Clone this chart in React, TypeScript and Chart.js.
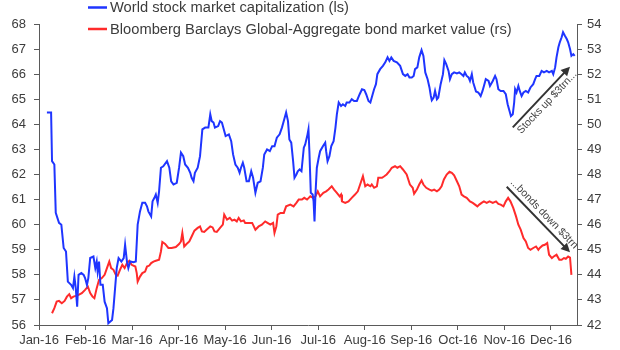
import React, { useEffect, useRef } from "react";
import { Chart, registerables } from "chart.js";

Chart.register(...registerables);

const monthLabels = ["Jan-16","Feb-16","Mar-16","Apr-16","May-16","Jun-16","Jul-16","Aug-16","Sep-16","Oct-16","Nov-16","Dec-16"];

// x = months elapsed since 1 Jan 2016
const stockMonths = [0.17,0.26,0.28,0.33,0.36,0.43,0.48,0.53,0.58,0.62,0.69,0.73,0.76,0.79,0.82,0.85,0.91,0.96,0.99,1.03,1.06,1.10,1.17,1.21,1.24,1.26,1.29,1.32,1.37,1.41,1.46,1.49,1.57,1.60,1.67,1.71,1.77,1.82,1.85,1.89,1.92,1.96,2.03,2.08,2.12,2.17,2.22,2.28,2.32,2.35,2.41,2.44,2.48,2.51,2.55,2.58,2.62,2.67,2.75,2.80,2.84,2.89,2.96,3.01,3.05,3.10,3.14,3.20,3.25,3.28,3.32,3.35,3.41,3.46,3.51,3.57,3.64,3.68,3.71,3.75,3.78,3.85,3.89,3.93,4.01,4.08,4.13,4.17,4.22,4.27,4.31,4.34,4.38,4.41,4.46,4.51,4.56,4.60,4.65,4.70,4.76,4.81,4.84,4.90,4.96,5.01,5.06,5.11,5.17,5.22,5.27,5.31,5.35,5.38,5.42,5.46,5.49,5.53,5.56,5.60,5.64,5.69,5.72,5.77,5.79,5.81,5.84,5.88,5.90,5.92,5.94,5.97,6.01,6.04,6.10,6.15,6.17,6.20,6.24,6.28,6.33,6.37,6.40,6.44,6.49,6.53,6.58,6.61,6.67,6.72,6.77,6.83,6.89,6.94,6.99,7.03,7.08,7.12,7.15,7.20,7.24,7.27,7.33,7.39,7.44,7.49,7.53,7.57,7.62,7.69,7.76,7.82,7.87,7.92,7.96,8.01,8.05,8.08,8.13,8.17,8.22,8.26,8.30,8.35,8.39,8.42,8.44,8.48,8.51,8.55,8.58,8.63,8.68,8.71,8.75,8.80,8.83,8.87,8.92,8.98,9.03,9.08,9.12,9.15,9.19,9.23,9.26,9.30,9.33,9.39,9.44,9.49,9.53,9.56,9.60,9.66,9.69,9.75,9.80,9.83,9.87,9.92,9.98,10.03,10.07,10.11,10.14,10.18,10.21,10.23,10.26,10.30,10.33,10.37,10.41,10.46,10.51,10.56,10.62,10.66,10.69,10.75,10.80,10.85,10.91,10.96,11.02,11.05,11.09,11.12,11.16,11.19,11.23,11.26,11.30,11.34,11.37,11.41,11.44,11.48,11.51];
const stockValues = [64.47,64.47,62.53,62.40,60.47,60.07,60.00,59.07,58.93,57.73,57.60,57.47,57.93,57.47,56.73,58.00,58.07,58.00,57.87,57.60,57.87,58.67,58.73,58.27,58.53,58.13,58.53,57.60,57.60,56.93,56.67,56.07,56.20,56.67,58.27,58.67,58.53,58.67,59.20,58.53,58.27,58.53,58.50,58.53,60.00,60.53,60.87,60.87,60.73,60.53,60.33,60.93,61.07,61.20,60.87,61.33,62.27,62.33,62.53,62.27,61.73,61.60,61.67,62.27,62.87,62.73,62.40,62.27,62.07,61.87,61.73,62.07,62.27,62.73,63.80,63.87,63.87,64.40,64.13,64.07,63.87,63.93,64.13,64.07,63.53,63.60,63.33,62.80,62.40,62.27,62.07,62.27,62.47,62.27,61.73,61.73,62.13,61.87,61.27,61.67,61.73,62.27,62.80,63.00,62.93,63.13,63.13,63.47,63.60,63.87,64.20,64.47,64.13,63.40,63.27,62.53,61.87,62.00,62.13,62.20,62.13,63.07,63.20,63.60,63.80,62.93,61.27,61.20,60.93,60.13,61.20,62.27,62.67,62.93,63.13,63.27,62.93,62.53,62.73,63.13,63.33,63.87,64.40,64.87,64.73,64.80,64.73,64.87,64.87,65.00,64.93,64.93,65.20,65.40,65.37,65.20,64.93,64.87,65.07,65.40,65.60,66.00,66.20,66.33,66.47,66.67,66.53,66.67,66.53,66.47,66.33,66.00,65.93,66.00,65.87,65.87,65.93,66.20,66.27,66.67,66.96,66.73,66.07,65.80,65.47,65.13,64.96,65.07,65.33,65.00,65.07,65.60,66.00,66.56,66.40,66.13,65.80,66.00,66.07,66.03,66.07,66.00,65.93,66.07,65.93,65.87,65.73,66.00,65.67,65.31,65.27,65.13,65.33,65.53,65.80,65.73,65.53,65.73,65.93,65.80,65.40,65.33,65.33,65.20,64.80,64.53,64.33,64.40,64.87,65.40,65.27,65.53,65.33,65.13,65.27,65.33,65.27,65.47,65.60,65.80,65.93,65.93,66.13,66.07,66.13,66.07,66.13,66.00,66.27,66.67,67.07,67.27,67.47,67.67,67.53,67.40,67.27,67.00,66.73,66.80,66.73];

const bondMonths = [0.28,0.33,0.38,0.43,0.49,0.55,0.60,0.65,0.69,0.74,0.79,0.85,0.92,0.99,1.05,1.10,1.15,1.19,1.24,1.29,1.35,1.41,1.46,1.51,1.55,1.60,1.65,1.69,1.74,1.79,1.84,1.89,1.94,1.99,2.07,2.10,2.12,2.17,2.22,2.28,2.32,2.37,2.41,2.46,2.51,2.58,2.62,2.65,2.71,2.78,2.85,2.94,3.01,3.05,3.08,3.12,3.17,3.23,3.28,3.34,3.41,3.46,3.50,3.55,3.60,3.68,3.73,3.77,3.82,3.89,3.95,3.98,4.04,4.10,4.15,4.20,4.25,4.29,4.34,4.40,4.43,4.51,4.58,4.65,4.72,4.79,4.86,4.91,4.97,5.03,5.06,5.10,5.13,5.19,5.26,5.31,5.40,5.47,5.53,5.58,5.65,5.70,5.76,5.83,5.89,5.94,5.99,6.04,6.11,6.17,6.22,6.29,6.34,6.40,6.46,6.49,6.51,6.58,6.65,6.72,6.79,6.85,6.90,6.96,7.01,7.06,7.12,7.15,7.20,7.26,7.29,7.37,7.42,7.47,7.53,7.58,7.65,7.70,7.76,7.82,7.90,7.97,8.03,8.06,8.12,8.17,8.22,8.26,8.32,8.39,8.44,8.49,8.55,8.60,8.65,8.70,8.76,8.82,8.87,8.92,8.98,9.03,9.08,9.13,9.19,9.26,9.32,9.37,9.42,9.46,9.51,9.56,9.62,9.68,9.75,9.82,9.87,9.92,9.98,10.03,10.08,10.13,10.19,10.25,10.30,10.35,10.41,10.46,10.51,10.56,10.62,10.68,10.73,10.76,10.82,10.87,10.92,10.96,11.02,11.06,11.12,11.18,11.23,11.28,11.32,11.37,11.41,11.44];
const bondValues = [42.47,42.67,42.93,42.96,42.87,42.96,43.13,43.23,43.07,43.13,43.16,43.20,43.27,43.40,43.53,43.27,43.13,43.07,43.47,43.80,43.87,44.00,44.27,44.53,44.27,44.20,44.00,43.97,44.20,44.40,44.27,44.47,44.56,44.40,44.33,44.07,43.73,43.93,44.07,44.13,44.33,44.37,44.47,44.53,44.56,44.60,44.93,45.31,45.23,45.07,45.07,45.11,45.23,45.33,45.67,45.13,45.23,45.33,45.53,45.76,45.87,45.93,45.73,45.71,45.80,45.93,45.89,45.73,45.71,45.87,46.00,46.40,46.20,46.27,46.16,46.20,46.13,46.27,46.13,46.17,46.07,46.07,46.07,45.80,45.93,46.00,46.13,46.07,46.00,46.07,45.67,45.93,46.40,46.47,46.47,46.73,46.80,46.73,46.87,47.00,47.00,47.07,47.00,47.13,47.07,47.13,47.33,47.13,47.27,47.33,47.40,47.53,47.40,47.27,47.13,47.20,46.93,46.87,46.93,47.07,47.20,47.33,47.60,47.93,47.53,47.60,47.53,47.60,47.47,47.53,47.87,47.87,47.93,48.00,48.13,48.27,48.33,48.27,48.33,48.20,48.00,47.60,47.47,47.23,47.40,47.60,47.76,47.60,47.47,47.40,47.36,47.40,47.33,47.40,47.53,47.80,48.00,48.11,48.07,47.97,47.73,47.53,47.20,47.13,47.07,46.93,46.87,46.80,46.73,46.80,46.87,46.93,46.87,46.93,46.87,46.93,46.83,46.80,46.73,46.93,47.07,46.93,46.67,46.33,46.00,45.80,45.47,45.33,45.07,45.00,45.07,45.13,45.00,45.07,45.17,45.20,45.27,44.80,44.67,44.73,44.80,44.60,44.60,44.67,44.64,44.73,44.69,44.00];

const stockLabel = "World stock market capitalization (ls)";
const bondLabel = "Bloomberg Barclays Global-Aggregate bond market value (rs)";
const stockNote = "Stocks up $3trn...";
const bondNote = "...bonds down $3trn";

const X_MAX = 11.56;
const BLUE = "#1f35ff";
const RED = "#ff2b2b";
const TEXT = "#3c3c3c";
const AXIS = "#5a5a5a";
const FONT = "'Liberation Sans', Arial, sans-serif";

// annotation arrows in data coordinates (month, value)
const stockArrow = { axis: "y", from: [10.18, 63.88], to: [11.41, 66.3] };
const bondArrow = { axis: "y1", from: [10.05, 47.51], to: [11.41, 44.9] };

function drawArrow(ctx: CanvasRenderingContext2D, x1: number, y1: number, x2: number, y2: number) {
  const ang = Math.atan2(y2 - y1, x2 - x1);
  const head = 9;
  const hw = 4.5;
  ctx.save();
  ctx.strokeStyle = "#333";
  ctx.fillStyle = "#333";
  ctx.lineWidth = 2;
  ctx.beginPath();
  ctx.moveTo(x1, y1);
  ctx.lineTo(x2 - Math.cos(ang) * head * 0.8, y2 - Math.sin(ang) * head * 0.8);
  ctx.stroke();
  ctx.beginPath();
  ctx.moveTo(x2, y2);
  ctx.lineTo(x2 - Math.cos(ang) * head + Math.sin(ang) * hw, y2 - Math.sin(ang) * head - Math.cos(ang) * hw);
  ctx.lineTo(x2 - Math.cos(ang) * head - Math.sin(ang) * hw, y2 - Math.sin(ang) * head + Math.cos(ang) * hw);
  ctx.closePath();
  ctx.fill();
  ctx.restore();
}

function drawNote(ctx: CanvasRenderingContext2D, text: string, x1: number, y1: number, x2: number, y2: number, offset: number) {
  const ang = Math.atan2(y2 - y1, x2 - x1);
  const mx = (x1 + x2) / 2;
  const my = (y1 + y2) / 2;
  const px = -Math.sin(ang);
  const py = Math.cos(ang);
  ctx.save();
  ctx.translate(mx + px * offset, my + py * offset);
  ctx.rotate(ang);
  ctx.font = `10.5px ${FONT}`;
  ctx.fillStyle = "#444";
  ctx.textAlign = "center";
  ctx.textBaseline = "middle";
  ctx.fillText(text, 0, 0);
  ctx.restore();
}

const overlayPlugin = {
  id: "overlay",
  afterDraw(chart: any) {
    const ctx: CanvasRenderingContext2D = chart.ctx;
    const xs = chart.scales.x;
    const items = [
      { label: stockLabel, color: BLUE, y: 7.5 },
      { label: bondLabel, color: RED, y: 29 },
    ];
    ctx.save();
    items.forEach((it) => {
      ctx.strokeStyle = it.color;
      ctx.lineWidth = 2.5;
      ctx.beginPath();
      ctx.moveTo(88, it.y);
      ctx.lineTo(107, it.y);
      ctx.stroke();
      ctx.font = `14.7px ${FONT}`;
      ctx.fillStyle = TEXT;
      ctx.textAlign = "left";
      ctx.textBaseline = "middle";
      ctx.fillText(it.label, 110, it.y + 0.5);
    });
    ctx.restore();

    const sA = chart.scales[stockArrow.axis];
    const s1 = [xs.getPixelForValue(stockArrow.from[0]), sA.getPixelForValue(stockArrow.from[1])];
    const s2 = [xs.getPixelForValue(stockArrow.to[0]), sA.getPixelForValue(stockArrow.to[1])];
    drawArrow(ctx, s1[0], s1[1], s2[0], s2[1]);
    drawNote(ctx, stockNote, s1[0], s1[1], s2[0], s2[1], 8);

    const bA = chart.scales[bondArrow.axis];
    const b1 = [xs.getPixelForValue(bondArrow.from[0]), bA.getPixelForValue(bondArrow.from[1])];
    const b2 = [xs.getPixelForValue(bondArrow.to[0]), bA.getPixelForValue(bondArrow.to[1])];
    drawArrow(ctx, b1[0], b1[1], b2[0], b2[1]);
    drawNote(ctx, bondNote, b1[0], b1[1], b2[0], b2[1], -8);
  },
};

export default function App() {
  const ref = useRef<HTMLCanvasElement | null>(null);
  useEffect(() => {
    if (!ref.current) return;
    const stockData = stockMonths.map((m, i) => ({ x: m, y: stockValues[i] }));
    const bondData = bondMonths.map((m, i) => ({ x: m, y: bondValues[i] }));
    const chart = new Chart(ref.current, {
      type: "line",
      data: {
        datasets: [
          { label: stockLabel, data: stockData, yAxisID: "y", borderColor: BLUE, borderWidth: 2, pointRadius: 0, tension: 0, fill: false },
          { label: bondLabel, data: bondData, yAxisID: "y1", borderColor: RED, borderWidth: 2, pointRadius: 0, tension: 0, fill: false },
        ],
      },
      options: {
        animation: false,
        responsive: false,
        devicePixelRatio: 1,
        layout: { padding: { top: 24, left: 0, right: 0, bottom: 0 } },
        plugins: { legend: { display: false }, tooltip: { enabled: false } },
        scales: {
          x: {
            type: "linear",
            min: 0,
            max: X_MAX,
            afterBuildTicks: (scale: any) => {
              scale.ticks = monthLabels.map((_, i) => ({ value: i }));
            },
            afterFit: (scale: any) => { scale.height = 25; },
            ticks: {
              autoSkip: false,
              maxRotation: 0,
              padding: 3,
              color: TEXT,
              font: { family: FONT, size: 13 },
              callback: (v: any) => monthLabels[Math.round(Number(v))] ?? "",
            },
            grid: { drawOnChartArea: false, drawTicks: true, tickLength: 5, color: AXIS },
            border: { display: true, color: AXIS, width: 1 },
          },
          y: {
            position: "left",
            min: 56,
            max: 68,
            afterFit: (scale: any) => { scale.width = 39; },
            ticks: { stepSize: 1, padding: 8, color: TEXT, font: { family: FONT, size: 13 } },
            grid: { drawOnChartArea: false, drawTicks: true, tickLength: 5, color: AXIS },
            border: { display: true, color: AXIS, width: 1 },
          },
          y1: {
            position: "right",
            min: 42,
            max: 54,
            afterFit: (scale: any) => { scale.width = 43; },
            ticks: { stepSize: 1, padding: 5, color: TEXT, font: { family: FONT, size: 13 } },
            grid: { drawOnChartArea: false, drawTicks: true, tickLength: 5, color: AXIS },
            border: { display: true, color: AXIS, width: 1 },
          },
        },
      },
      plugins: [overlayPlugin],
    } as any);
    return () => chart.destroy();
  }, []);
  return (
    <div style={{ position: "fixed", left: 0, top: 0, width: 620, height: 350, background: "#fff" }}>
      <canvas ref={ref} width={620} height={350} style={{ display: "block" }} />
    </div>
  );
}
